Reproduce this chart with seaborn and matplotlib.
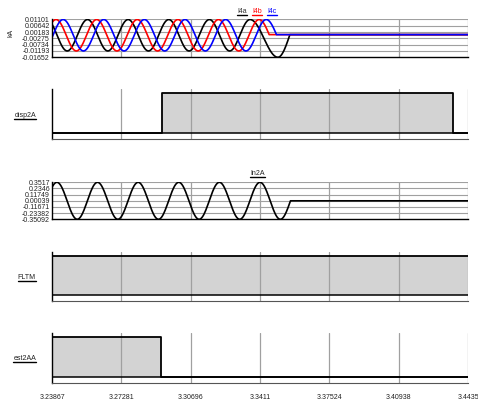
import numpy as np
import pandas as pd
import matplotlib
matplotlib.use("Agg")
import matplotlib.pyplot as plt
import seaborn as sns
from matplotlib.lines import Line2D

sns.set_theme(style="white")
plt.rcParams['font.family'] = ['Liberation Sans', 'DejaVu Sans']

# ---------------- data ----------------
X_TICKS = [3.23867, 3.27281, 3.30696, 3.3411, 3.37524, 3.40938, 3.4435]
X_LABELS = ["3.23867", "3.27281", "3.30696", "3.3411", "3.37524", "3.40938", "3.4435"]

KA_TICKS = [0.01101, 0.00642, 0.00183, -0.00275, -0.00734, -0.01193, -0.01652]
KA_LABELS = ["0.01101", "0.00642", "0.00183", "-0.00275", "-0.00734", "-0.01193", "-0.01652"]

IN2A_TICKS = [0.3517, 0.2346, 0.11749, 0.00039, -0.11671, -0.23382, -0.35092]
IN2A_LABELS = ["0.3517", "0.2346", "0.11749", "0.00039", "-0.11671", "-0.23382", "-0.35092"]

# waveform key points (peaks / troughs / zero points)
I4a_t = [3.23616, 3.24616, 3.25616, 3.26616, 3.27616, 3.28616, 3.29616, 3.30616,
         3.31616, 3.32616, 3.33616, 3.34990, 3.35580, 3.44350]
I4a_v = [0.0110, -0.0119, 0.0110, -0.0119, 0.0110, -0.0119, 0.0110, -0.0119,
         0.0110, -0.0119, 0.0110, -0.0165, 0.0, 0.0]

I4b_t = [3.23066, 3.24066, 3.25066, 3.26066, 3.27066, 3.28066, 3.29066, 3.30066,
         3.31066, 3.32066, 3.33066, 3.34066, 3.34560, 3.44350]
I4b_v = [-0.0119, 0.0110, -0.0119, 0.0110, -0.0119, 0.0110, -0.0119, 0.0110,
         -0.0119, 0.0110, -0.0119, 0.0110, 0.0, 0.0]

I4c_t = [3.23416, 3.24416, 3.25416, 3.26416, 3.27416, 3.28416, 3.29416, 3.30416,
         3.31416, 3.32416, 3.33416, 3.34416, 3.34920, 3.44350]
I4c_v = [-0.0119, 0.0110, -0.0119, 0.0110, -0.0119, 0.0110, -0.0119, 0.0110,
         -0.0119, 0.0110, -0.0119, 0.0110, 0.0, 0.0]

In2A_t = [3.23109, 3.24109, 3.25109, 3.26109, 3.27109, 3.28109, 3.29109, 3.30109,
          3.31109, 3.32109, 3.33109, 3.34109, 3.35109, 3.35609, 3.44350]
In2A_v = [-0.35092, 0.3517, -0.35092, 0.3517, -0.35092, 0.3517, -0.35092, 0.3517,
          -0.35092, 0.3517, -0.35092, 0.3517, -0.35092, 0.0, 0.0]

# digital signals: change times and states
disp2A_t = [3.23867, 3.29260, 3.43630, 3.44350]
disp2A_v = [0, 1, 0, 0]
FLTM_t = [3.23867, 3.44350]
FLTM_v = [1, 1]
est2AA_t = [3.23867, 3.29220, 3.44350]
est2AA_v = [1, 0, 0]

# ---------------- helpers ----------------
W, H = 478, 401
fig = plt.figure(figsize=(W / 100, H / 100), dpi=100)
fig.patch.set_facecolor("white")

XL, XR = 52, 468
TXT = "#222222"
GRID = "#a0a0a0"
FS = 5


def add_axes(top, bottom):
    return fig.add_axes([XL / W, 1 - bottom / H, (XR - XL) / W, (bottom - top) / H])


def render(tk, vk, n=40):
    ts, vs = [], []
    for i in range(len(tk) - 1):
        t0, t1, v0, v1 = tk[i], tk[i + 1], vk[i], vk[i + 1]
        s = np.linspace(0, 1, n)
        if v1 == 0 and v0 != 0:
            y = v0 * np.cos(np.pi * s / 2)
        else:
            y = (v0 + v1) / 2 + (v0 - v1) / 2 * np.cos(np.pi * s)
        ts.append(t0 + (t1 - t0) * s)
        vs.append(y)
    return np.concatenate(ts), np.concatenate(vs)


def style_common(ax):
    ax.set_facecolor("white")
    ax.set_xlim(X_TICKS[0], X_TICKS[-1])
    ax.set_xticks(X_TICKS)
    ax.tick_params(axis="both", length=0, labelsize=FS, colors=TXT, pad=1.5)
    for s in ["top", "right"]:
        ax.spines[s].set_visible(False)
    ax.spines["left"].set_color("black")
    ax.spines["left"].set_linewidth(1.0)
    ax.set_xlabel("")
    ax.set_ylabel("")


def wave_panel(ax, ticks, labels):
    style_common(ax)
    ax.set_ylim(ticks[-1], ticks[0])
    ax.set_yticks(ticks)
    ax.set_yticklabels(labels)
    ax.set_xticklabels([])
    for yv in ticks[:-1]:
        ax.axhline(yv, color=GRID, lw=0.8, zorder=0.5)
    for xv in X_TICKS[1:]:
        ax.axvline(xv, color=GRID, lw=0.9, zorder=0.5)
    ax.spines["bottom"].set_color("black")
    ax.spines["bottom"].set_linewidth(1.0)


def step_panel(ax, tt, vv, last=False):
    style_common(ax)
    ax.set_ylim(-0.14, 1.11)
    ax.set_yticks([])
    df = pd.DataFrame({"t": tt, "v": vv})
    ax.fill_between(df["t"], 0, df["v"], step="post", facecolor="#d3d3d3",
                    edgecolor="none", lw=0, zorder=1)
    for xv in X_TICKS[1:]:
        ax.axvline(xv, color=GRID, lw=0.9, zorder=1.5)
    ax.axhline(0, color="black", lw=1.1, zorder=2)
    sns.lineplot(data=df, x="t", y="v", ax=ax, color="black", lw=1.3,
                 drawstyle="steps-post", sort=False, estimator=None, zorder=3)
    ax.set_xlabel("")
    ax.set_ylabel("")
    ax.spines["bottom"].set_color("#555555")
    ax.spines["bottom"].set_linewidth(0.8)
    if last:
        ax.set_xticklabels(X_LABELS)
        ax.tick_params(axis="x", pad=8.5)
    else:
        ax.set_xticklabels([])


# ---------------- panel 1: I4a/I4b/I4c ----------------
ax1 = add_axes(19.5, 57.3)
frames = []
for name, tk, vk in [("I4a", I4a_t, I4a_v), ("I4b", I4b_t, I4b_v), ("I4c", I4c_t, I4c_v)]:
    t, v = render(tk, vk)
    frames.append(pd.DataFrame({"t": t, "v": v, "phase": name}))
wdf = pd.concat(frames, ignore_index=True)
sns.lineplot(data=wdf, x="t", y="v", hue="phase", ax=ax1, legend=False, sort=False,
             estimator=None, lw=1.2, zorder=2,
             palette={"I4a": "black", "I4b": "#ff0000", "I4c": "#0000ff"})
wave_panel(ax1, KA_TICKS, KA_LABELS)

# ---------------- panel 2: disp2A ----------------
ax2 = add_axes(89, 138.5)
step_panel(ax2, disp2A_t, disp2A_v)

# ---------------- panel 3: In2A ----------------
ax3 = add_axes(182.3, 219.3)
t, v = render(In2A_t, In2A_v)
sns.lineplot(x=t, y=v, ax=ax3, color="black", lw=1.2, sort=False, estimator=None, zorder=2)
wave_panel(ax3, IN2A_TICKS, IN2A_LABELS)

# ---------------- panel 4: FLTM ----------------
ax4 = add_axes(251.5, 300.5)
step_panel(ax4, FLTM_t, FLTM_v)

# ---------------- panel 5: est2AA ----------------
ax5 = add_axes(333, 382.5)
step_panel(ax5, est2AA_t, est2AA_v, last=True)

# ---------------- texts ----------------
fig.text(11 / W, 1 - 33 / H, "kA", rotation=90, ha="center", va="center",
         fontsize=FS, color=TXT)

underline_items = []


def utext(x, y, s, color, ha, ucolor):
    t = fig.text(x / W, 1 - y / H, s, ha=ha, va="center", fontsize=FS, color=color)
    underline_items.append((t, ucolor))


utext(242, 11.5, "I4a", "#333333", "center", "black")
utext(257, 11.5, "I4b", "#ff0000", "center", "#ff0000")
utext(272, 11.5, "I4c", "#0000ff", "center", "#0000ff")
utext(257.5, 173.3, "In2A", TXT, "center", "black")
utext(36, 115.5, "disp2A", TXT, "right", "black")
utext(36, 277.5, "FLTM", TXT, "right", "black")
utext(36, 358.5, "est2AA", TXT, "right", "black")

fig.canvas.draw()
r = fig.canvas.get_renderer()
for t, uc in underline_items:
    bb = t.get_window_extent(r)
    yy = (bb.y0 - 0.2) / H
    fig.add_artist(Line2D([bb.x0 / W, bb.x1 / W], [yy, yy], color=uc, lw=1.0,
                          transform=fig.transFigure))

fig.savefig("out.png", dpi=100, facecolor="white")
